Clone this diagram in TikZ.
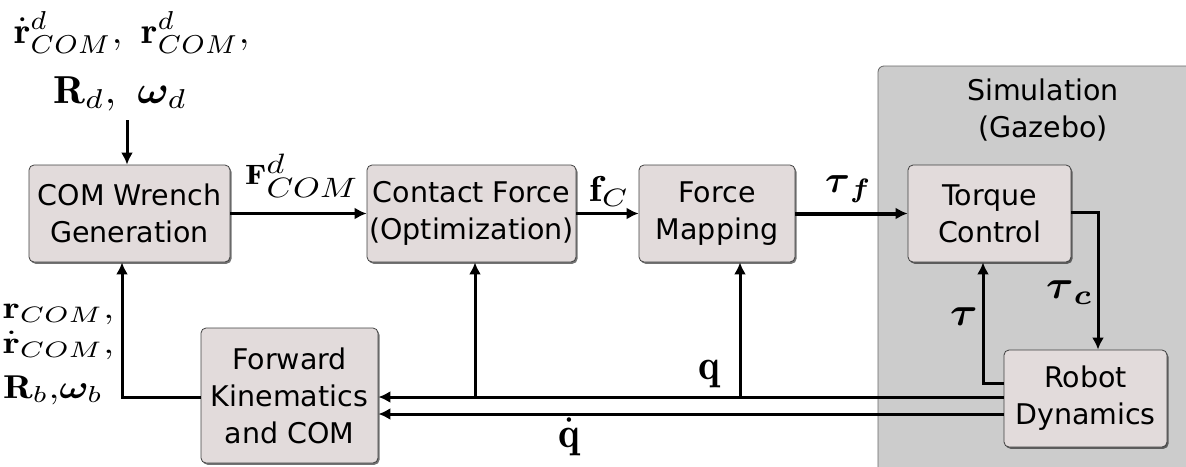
\documentclass[tikz,border=0pt]{standalone}
\usepackage{amsmath,bm}
\usepackage{graphicx}
\usepackage{fontspec}
\setsansfont{DejaVu Sans}
\usetikzlibrary{arrows.meta,shadows,calc}
\definecolor{boxfill}{RGB}{226,219,219}
\definecolor{panelfill}{RGB}{204,204,204}
\newcommand\lab[3]{\scalebox{#1}[#2]{$#3$}}
\begin{document}
\begin{tikzpicture}[x=1pt,y=-1pt,
  box/.style={draw=black!75, line width=0.8pt, fill=boxfill, rounded corners=5pt,
    drop shadow={shadow xshift=1.5pt,shadow yshift=-1.8pt,opacity=0.55,fill=black},
    font=\sffamily\fontsize{28.5}{37}\selectfont, align=center, inner sep=0pt},
  conn/.style={line width=3pt},
  arr/.style={conn,-{Latex[length=12pt,width=12pt]}},
  lbl/.style={inner sep=0pt, anchor=base west, font=\fontsize{10}{12}\selectfont}]
\useasboundingbox (0,0) rectangle (1186,466);
% simulation panel
\draw[fill=panelfill, draw=black!60, line width=0.8pt, rounded corners=6pt] (878,66) rectangle (1200,480);
\node[inner sep=0pt, align=center, font=\sffamily\fontsize{28.5}{37}\selectfont] (sim) at (1043,110) {Simulation\\(Gazebo)};
% boxes
\node[box, minimum width=201pt, minimum height=97pt] (cw) at (129.5,213.5) {COM Wrench\\Generation};
\node[box, minimum width=209pt, minimum height=97pt] (cf) at (471.5,213.5) {Contact Force\\(Optimization)};
\node[box, minimum width=156pt, minimum height=97pt] (fm) at (717,213.5) {Force\\Mapping};
\node[box, minimum width=163pt, minimum height=97pt] (tc) at (989.5,213.5) {Torque\\Control};
\node[box, minimum width=163pt, minimum height=97pt] (rd) at (1085.5,398.5) {Robot\\Dynamics};
\node[box, minimum width=177pt, minimum height=135pt] (fk) at (289.5,395.5) {Forward\\Kinematics\\and COM};
% labels
\node[lbl] (inp1) at (14,43) {\lab{3.8}{3.7}{\dot{\mathbf{r}}^{d}_{COM},\ \mathbf{r}^{d}_{COM},}};
\node[lbl] (inp2) at (53,103) {\lab{4.2}{3.9}{\mathbf{R}_{d},\ \boldsymbol{\omega}_{d}}};
\node[lbl] (lF) at (245,184) {\lab{3.4}{2.8}{\mathbf{F}^{\textstyle d}_{\textstyle COM}}};
\node[lbl] (lfc) at (589,201) {\lab{4.1}{3.6}{\mathbf{f}_{C}}};
\node[lbl] (ltf) at (825,192) {\lab{3.8}{3.8}{\boldsymbol{\tau}_{\,\boldsymbol{f}}}};
\node[lbl] (ltc) at (1046,298) {\lab{4.2}{4}{\boldsymbol{\tau}_{\,\boldsymbol{c}}}};
\node[lbl] (lt) at (950,325) {\lab{4.2}{4}{\boldsymbol{\tau}}};
\node[lbl] (lq) at (698,379) {\lab{4.1}{4.3}{\mathbf{q}}};
\node[lbl] (lqd) at (558,447) {\lab{4.1}{4.3}{\dot{\mathbf{q}}}};
\node[lbl] (lr1) at (3,318) {\lab{3.9}{3.2}{\mathbf{r}_{COM},}};
\node[lbl] (lr2) at (3,353) {\lab{3.9}{3.2}{\dot{\mathbf{r}}_{COM},}};
\node[lbl] (lr3) at (3,398) {\lab{3.9}{3.3}{\mathbf{R}_{b}{,}\boldsymbol{\omega}_{b}}};
% connectors
\coordinate (in) at (127,120);
\draw[arr] (in) -- (in |- cw.north);
\draw[arr] (cw.east) -- (cf.west);
\draw[arr] (cf.east) -- (fm.west);
\draw[arr, line width=4pt] (fm.east) -- (tc.west);
\coordinate (k1) at (1098,212);
\draw[arr] (tc.east |- k1) -- (k1) -- (k1 |- rd.north);
\coordinate (k2) at (983,383);
\draw[arr] (rd.west |- k2) -- (k2) -- (k2 |- tc.south);
\coordinate (qy) at (0,397);
\coordinate (qdy) at (0,414);
\draw[arr] (rd.west |- qy) -- (fk.east |- qy);
\draw[arr] (rd.west |- qdy) -- (fk.east |- qdy);
\coordinate (v1) at (475,397);
\coordinate (v2) at (740,397);
\draw[arr] (v1) -- (v1 |- cf.south);
\draw[arr] (v2) -- (v2 |- fm.south);
\coordinate (v3) at (122,397);
\draw[arr] (fk.west |- v3) -- (v3) -- (v3 |- cw.south);
\end{tikzpicture}
\end{document}
